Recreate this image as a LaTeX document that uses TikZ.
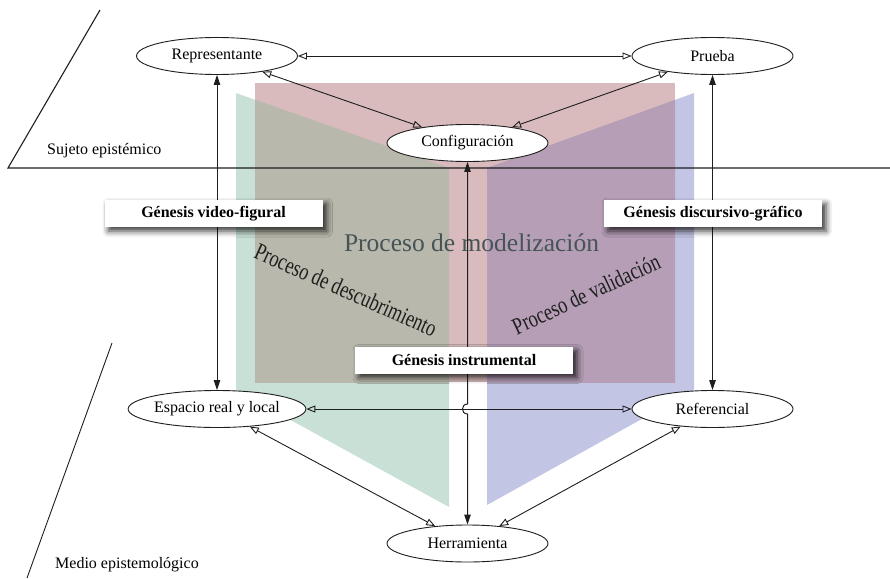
\documentclass[tikz,border=0pt]{standalone}
\usepackage{fontspec}
\setmainfont{Liberation Serif}
\usetikzlibrary{shapes.geometric,arrows.meta,shadows.blur,calc}

\definecolor{pinkc}{RGB}{217,187,189}
\definecolor{greenc}{RGB}{200,224,213}
\definecolor{bluec}{RGB}{195,197,228}
\definecolor{grayov}{RGB}{185,184,172}
\definecolor{purpov}{RGB}{181,158,182}
\definecolor{modc}{RGB}{70,84,86}
\definecolor{ink}{RGB}{30,30,30}

\begin{document}
\begin{tikzpicture}[x=1pt,y=-1pt,
  state/.style={ellipse,draw=ink,line width=0.9pt,fill=white,
    minimum width=161pt,minimum height=37pt,inner sep=0pt,
    font=\fontsize{16}{19}\selectfont},
  genbox/.style={fill=white,minimum width=218pt,minimum height=27pt,inner sep=0pt,
    font=\fontsize{16}{19}\selectfont\bfseries,
    blur shadow={shadow xshift=4pt,shadow yshift=-4pt,shadow blur radius=6pt,shadow opacity=80}},
  plain/.style={font=\fontsize{16}{19}\selectfont,inner sep=0pt},
  slanted/.style={font=\fontsize{24}{26}\selectfont,text=ink,inner sep=0pt},
  peer/.style={draw=ink,line width=0.9pt,
    {Triangle[open,length=9pt,width=7pt]}-{Triangle[open,length=9pt,width=7pt]}},
  link/.style={draw=ink,line width=1pt,
    {Triangle[length=10pt,width=6.5pt]}-{Triangle[length=10pt,width=6.5pt]}},
  zone/.style={draw=ink,line width=1.1pt},
]
\useasboundingbox (0,0) rectangle (890,578);

% coloured pages of the modelling process
\fill[greenc] (236,93) -- (449,168) -- (449,507) -- (236,390) -- cycle;
\fill[bluec] (694,93) -- (487,168) -- (487,505) -- (694,390) -- cycle;
\fill[pinkc] (255,83) rectangle (675,382);
\begin{scope}
  \clip (255,83) rectangle (675,382);
  \fill[grayov] (236,93) -- (449,168) -- (449,507) -- (236,390) -- cycle;
  \fill[purpov] (694,93) -- (487,168) -- (487,505) -- (694,390) -- cycle;
\end{scope}

% boundary between the epistemic subject and the epistemological medium
\coordinate (s0) at (100,10);
\coordinate (h0) at (8,168);
\coordinate (h1) at (890,168);
\coordinate (m0) at (112,343);
\coordinate (m1) at (27,578);
\draw[zone] (s0) -- (h0) -- (h1);
\draw[zone,line width=0.9pt] (m0) -- (m1);

\node[plain,anchor=base west] (suj) at (47,154) {Sujeto epistémico};
\node[plain,anchor=base west] (med) at (55,568) {Medio epistemológico};

% process labels
\node[font=\fontsize{25.5}{28}\selectfont,text=modc,anchor=base,inner sep=0pt] (mod) at (471.5,251) {Proceso de modelización};
\node[slanted,rotate=-24] (desc) at (346,290)
  {\scalebox{0.76}[1]{Proceso de descubrimiento}};
\node[slanted,rotate=25] (val) at (586,294)
  {\scalebox{0.76}[1]{Proceso de validación}};

% poles
\node[state] (rep) at (217,56) {Representante};
\node[state] (pru) at (712.5,56) {Prueba};
\node[state] (conf) at (467.5,143) {Configuración};
\node[state] (esp) at (217,409) {Espacio real y local};
\node[state] (ref) at (712.5,409) {Referencial};
\node[state] (herr) at (467.5,543.5) {Herramienta};

% relations
\draw[peer] (rep) -- (pru);
\draw[peer] (rep) -- (conf);
\draw[peer] (pru) -- (conf);
\draw[peer] (esp) -- (ref);
\draw[peer] (esp) -- (herr);
\draw[peer] (ref) -- (herr);
\draw[link] (rep) -- (esp);
\draw[link] (pru) -- (ref);
\draw[link] (conf.south) -- ($(conf.south |- esp.east)+(0,-5)$)
  .. controls +(-6.7,0) and +(-6.7,0) .. ($(conf.south |- esp.east)+(0,5)$)
  -- (herr.north);

% geneses
\node[genbox] (gvf) at (213.5,213.5) {Génesis video-figural};
\node[genbox] (gdg) at (713,213.5) {Génesis discursivo-gráfico};
\node[genbox] (gin) at (464,360) {Génesis instrumental};
\end{tikzpicture}
\end{document}
